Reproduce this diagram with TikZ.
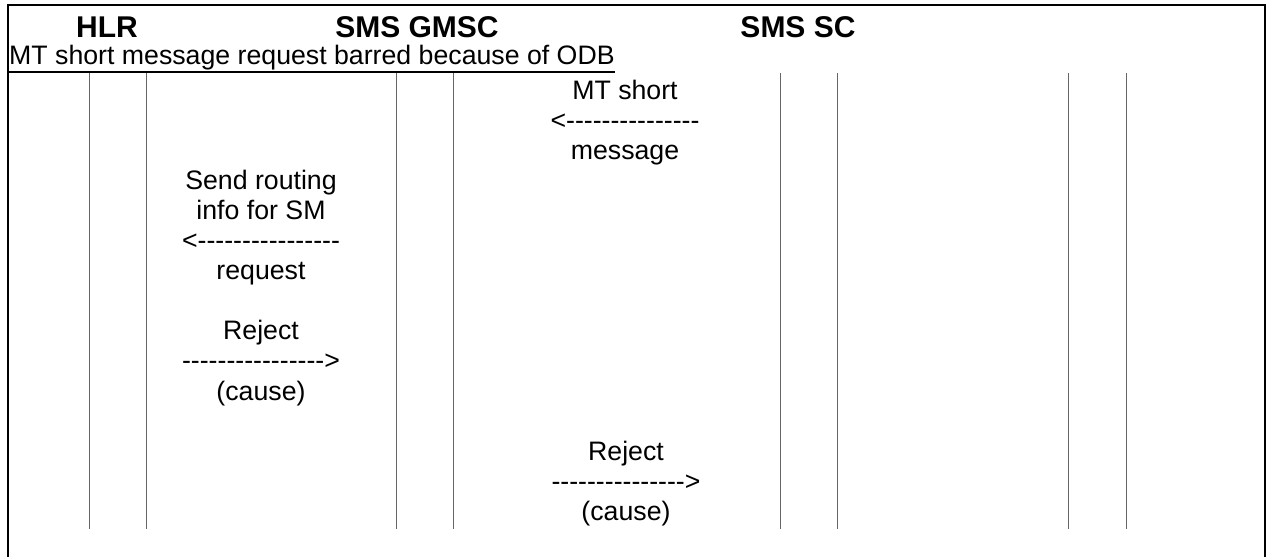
\documentclass[tikz,border=0pt]{standalone}
\usepackage{fontspec}
\setmainfont{Liberation Sans}[Ligatures=TeXOff]
\begin{document}
\begin{tikzpicture}[x=1pt,y=-1pt,
  txt/.style={inner sep=0pt, anchor=base, font=\fontsize{26.7}{30}\selectfont},
  hdr/.style={inner sep=0pt, anchor=base, font=\fontsize{30}{34}\selectfont\bfseries},
  life/.style={draw=black!60, line width=1pt},
  frame/.style={draw=black, line width=2.3pt},
  uline/.style={draw=black, line width=2pt}]
\useasboundingbox (0,0) rectangle (1270,557);
\draw[frame] (8,5) rectangle (1265,565);
% headers
\node[hdr] (hlr) at (107,37) {HLR};
\node[hdr] (gmsc) at (417,37) {SMS GMSC};
\node[hdr] (sc) at (798,37) {SMS SC};
% subtitle
\node[txt, anchor=base west] (sub) at (9,64) {MT short message request barred because of ODB};
\draw[uline] ([yshift=-7.5pt]sub.base west) -- ([yshift=-7.5pt]sub.base east);
% lifelines
\foreach \x [count=\i] in {89,146.5,396,453,780,837,1068,1126} {
  \coordinate (t\i) at (\x,73);
  \coordinate (b\i) at (\x,529);
  \draw[life] (t\i) -- (b\i);
}
% message 1
\def\by#1{99+30.1*#1}
\node[txt] (m1a) at (625,{\by{0}}) {MT short};
\node[txt] (m1b) at (625,{\by{1}}) {<---------------};
\node[txt] (m1c) at (625,{\by{2}}) {message};
% message 2
\node[txt] (m2a) at (261,{\by{3}}) {Send routing};
\node[txt] (m2b) at (261,{\by{4}}) {info for SM};
\node[txt] (m2c) at (261,{\by{5}}) {<----------------};
\node[txt] (m2d) at (261,{\by{6}}) {request};
% message 3
\node[txt] (m3a) at (261,{\by{8}}) {Reject};
\node[txt] (m3b) at (261,{\by{9}}) {---------------->};
\node[txt] (m3c) at (261,{\by{10}}) {(cause)};
% message 4
\node[txt] (m4a) at (626,{\by{12}}) {Reject};
\node[txt] (m4b) at (626,{\by{13}}) {--------------->};
\node[txt] (m4c) at (626,{\by{14}}) {(cause)};
\end{tikzpicture}
\end{document}
